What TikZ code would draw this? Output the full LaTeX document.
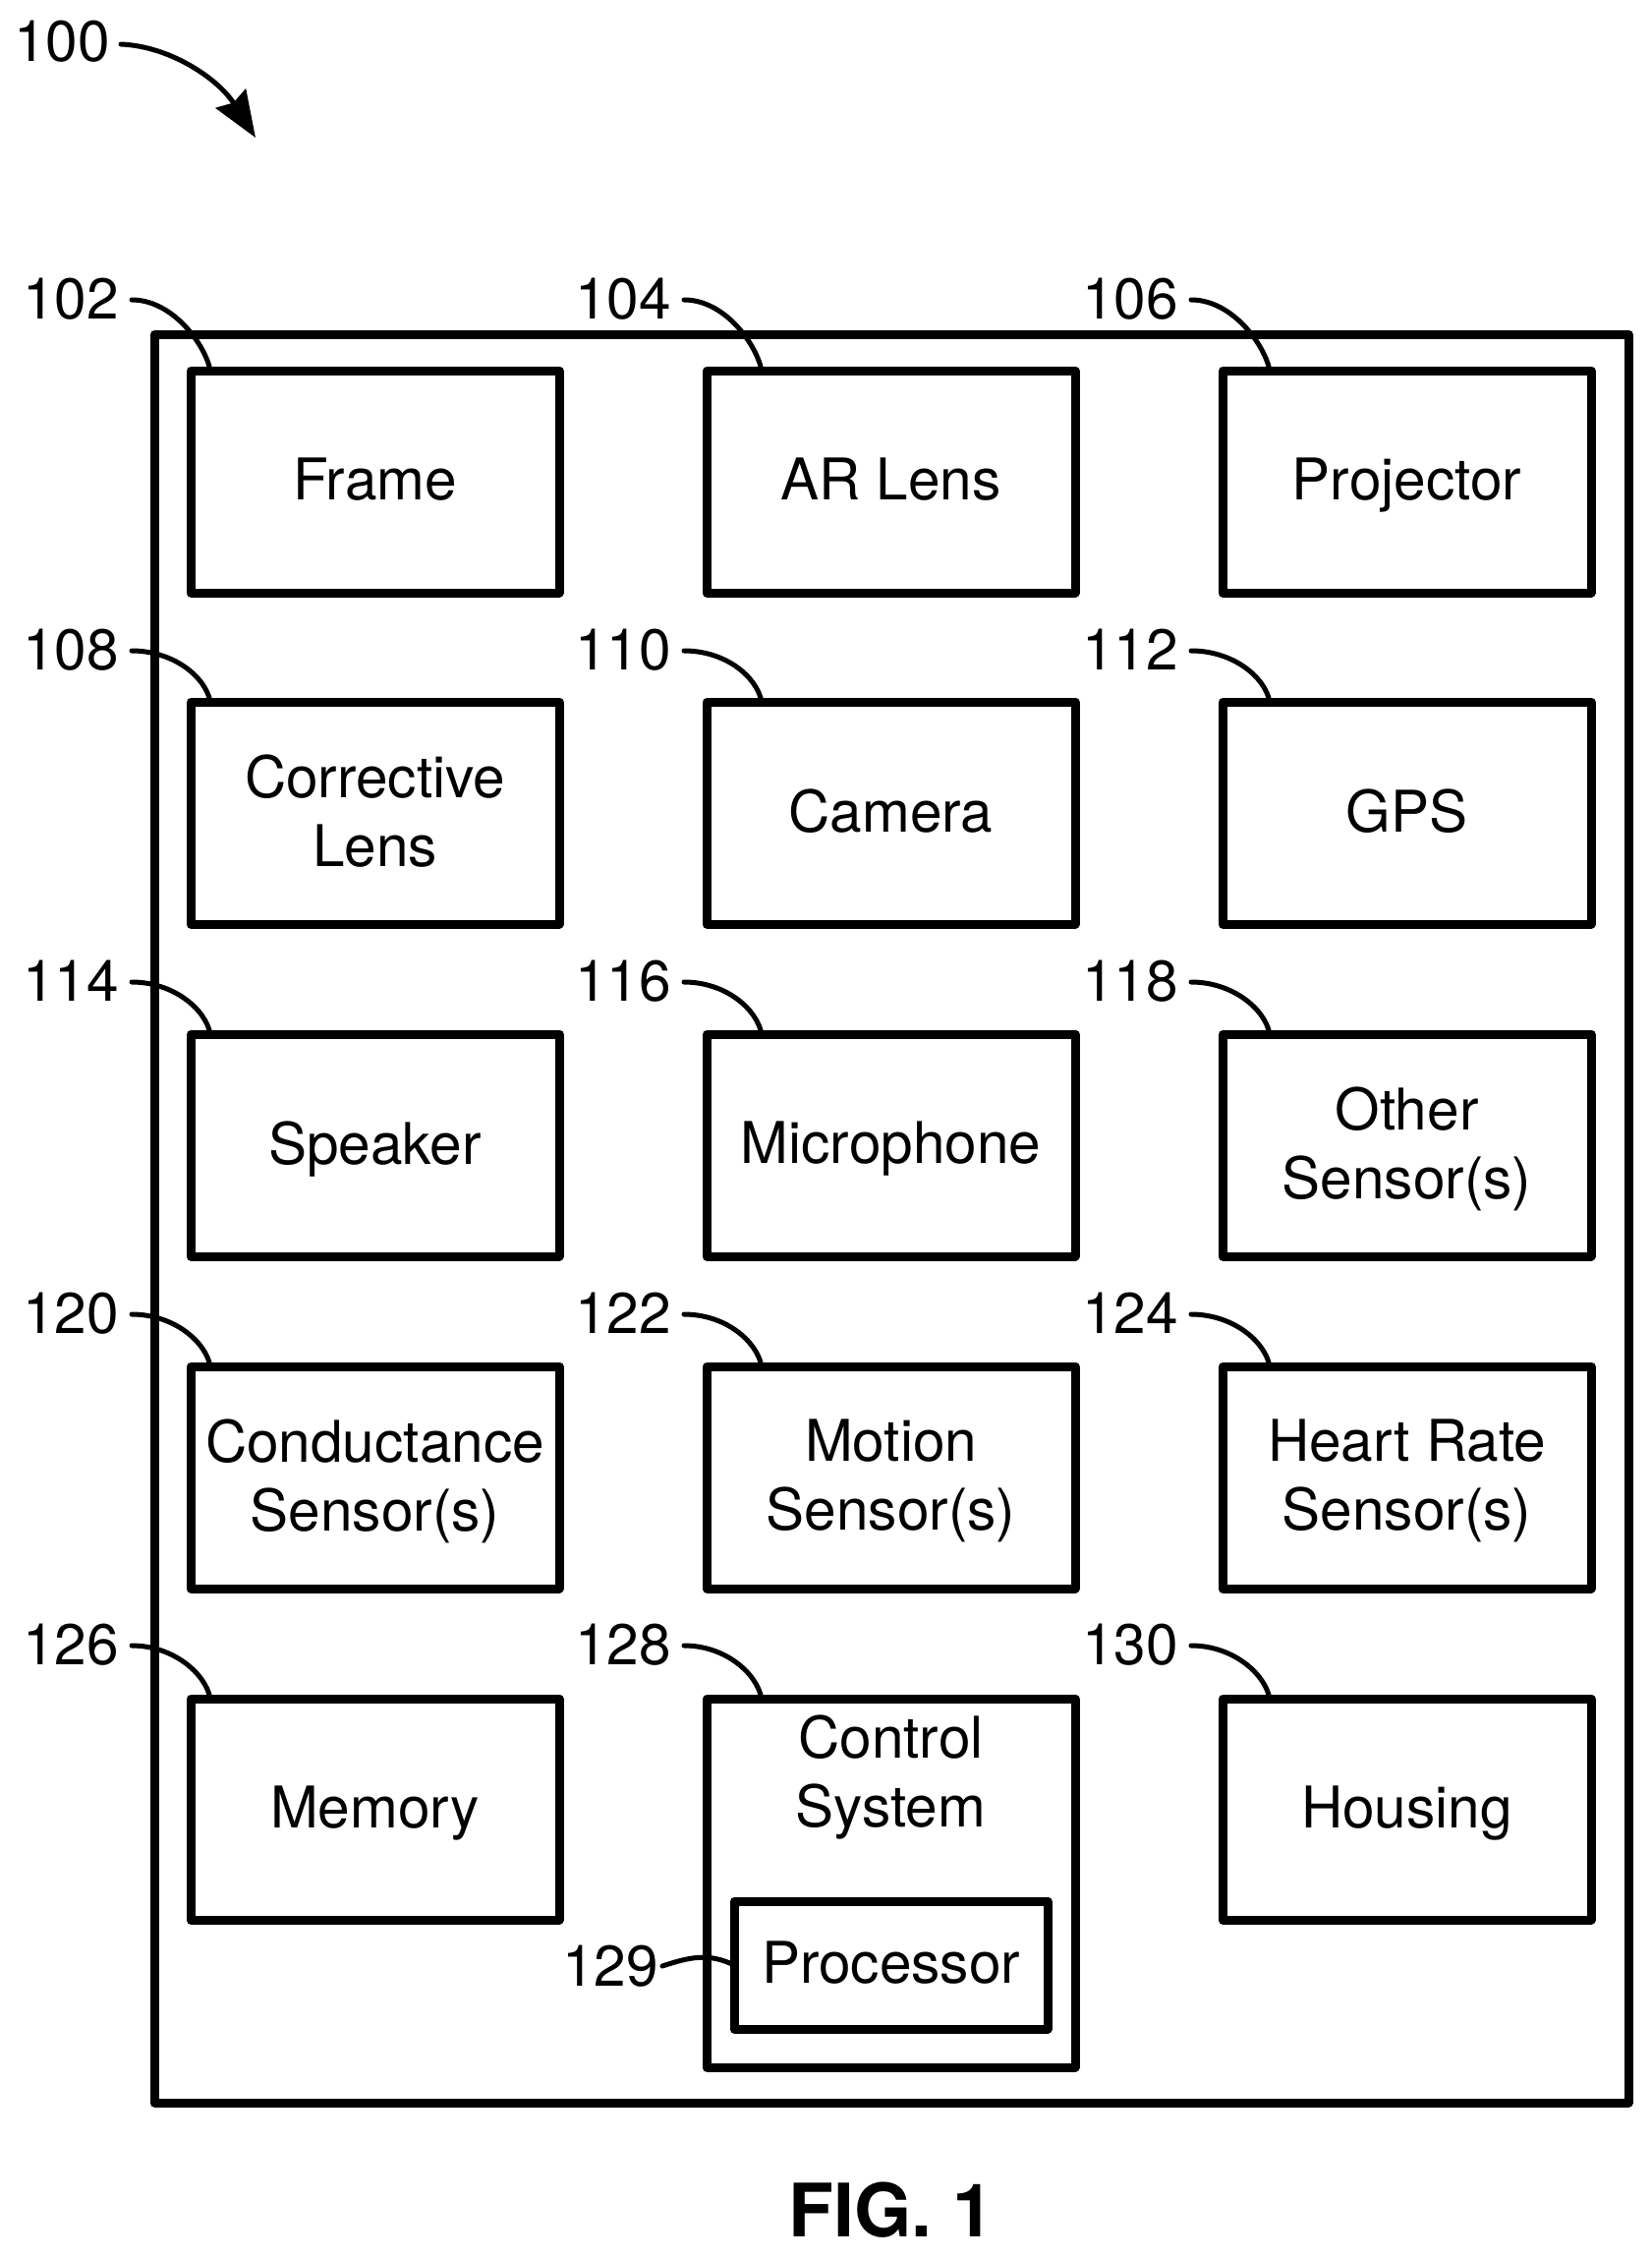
\documentclass[tikz,border=0pt]{standalone}
\usepackage{fontspec}
\setmainfont{TeX Gyre Heros}
\usetikzlibrary{arrows.meta}
\newcommand\nd[1]{\raisebox{0pt}[\height][5pt]{#1}}
\newcommand\numlabel[5]{%
  \node[reflabel,anchor=east] (l#1) at (#2,#3) {#1};
  \draw[leader] ([xshift=13pt,yshift=-1pt]l#1.east) .. controls +(42,0) and +(-5,-26) .. ([xshift=#5pt]#4.north west);
}
\tikzset{
  blockbox/.style={draw=black,line width=9pt,line join=round,rectangle,inner sep=0pt,outer sep=0pt,
    minimum width=375pt,minimum height=226pt,anchor=north west,align=center,
    font=\fontsize{58.5}{70}\selectfont,text=black},
  reflabel/.style={inner sep=0pt,outer sep=0pt,font=\fontsize{58.5}{70}\selectfont,text=black},
  leader/.style={draw=black,line width=5pt,line cap=round},
}
\begin{document}
\begin{tikzpicture}[x=1pt,y=-1pt]
\useasboundingbox (0,0) rectangle (1681,2297);
\node[blockbox,minimum width=1500pt,minimum height=1799pt] (outer) at (157,340) {};
% row 1
\node[blockbox] (frame) at (194,377) {\nd{Frame}};
\node[blockbox] (arlens) at (719,377) {\nd{AR Lens}};
\node[blockbox] (projector) at (1244,377) {\nd{Projector}};
% row 2
\node[blockbox] (corrective) at (194,714) {Corrective\\\nd{Lens}};
\node[blockbox] (camera) at (719,714) {\nd{Camera}};
\node[blockbox] (gps) at (1244,714) {\nd{GPS}};
% row 3
\node[blockbox] (speaker) at (194,1052) {\nd{Speaker}};
\node[blockbox] (microphone) at (719,1052) {\nd{Microphone}};
\node[blockbox] (othersensor) at (1244,1052) {Other\\\nd{Sensor(s)}};
% row 4
\node[blockbox] (conductance) at (194,1390) {Conductance\\\nd{Sensor(s)}};
\node[blockbox] (motion) at (719,1390) {Motion\\\nd{Sensor(s)}};
\node[blockbox] (heartrate) at (1244,1390) {Heart Rate\\\nd{Sensor(s)}};
% row 5
\node[blockbox,minimum height=225pt] (memory) at (194,1728) {\nd{Memory}};
\node[blockbox,minimum height=375pt] (control) at (719,1728) {};
\node[reflabel,align=center] (controltitle) at (906.5,1804) {Control\\\nd{System}};
\node[blockbox,minimum height=225pt] (housing) at (1244,1728) {\nd{Housing}};
\node[blockbox,minimum width=319pt,minimum height=130pt] (processor) at (747,1934) {\nd{Processor}};
% reference numbers
\numlabel{102}{121}{304}{frame}{20}
\numlabel{104}{683}{304}{arlens}{56}
\numlabel{106}{1199}{304}{projector}{48}
\numlabel{108}{121}{661}{corrective}{20}
\numlabel{110}{683}{661}{camera}{56}
\numlabel{112}{1199}{661}{gps}{48}
\numlabel{114}{121}{998}{speaker}{20}
\numlabel{116}{683}{998}{microphone}{56}
\numlabel{118}{1199}{998}{othersensor}{48}
\numlabel{120}{121}{1336}{conductance}{20}
\numlabel{122}{683}{1336}{motion}{56}
\numlabel{124}{1199}{1336}{heartrate}{48}
\numlabel{126}{121}{1673}{memory}{20}
\numlabel{128}{683}{1673}{control}{56}
\numlabel{130}{1199}{1673}{housing}{48}
\node[reflabel,anchor=east] (l129) at (670,2000) {129};
\draw[leader] ([xshift=4pt]l129.east) .. controls +(30,-10) and +(-25,-12) .. (processor.west);
% figure reference arrow
\node[reflabel,anchor=east] (l100) at (112,42) {100};
\coordinate (figtip) at (260,140);
\draw[draw=black,line width=5pt,line cap=round,-{Stealth[length=47pt,width=36pt,inset=5pt]}]
  ([xshift=11pt,yshift=-3pt]l100.east) .. controls +(50,2) and +(-38,-60) .. (figtip);
% caption
\node[inner sep=0pt,outer sep=0pt,font=\fontsize{75}{90}\selectfont\bfseries,text=black] (caption) at (907,2248) {FIG. 1};
\end{tikzpicture}
\end{document}
